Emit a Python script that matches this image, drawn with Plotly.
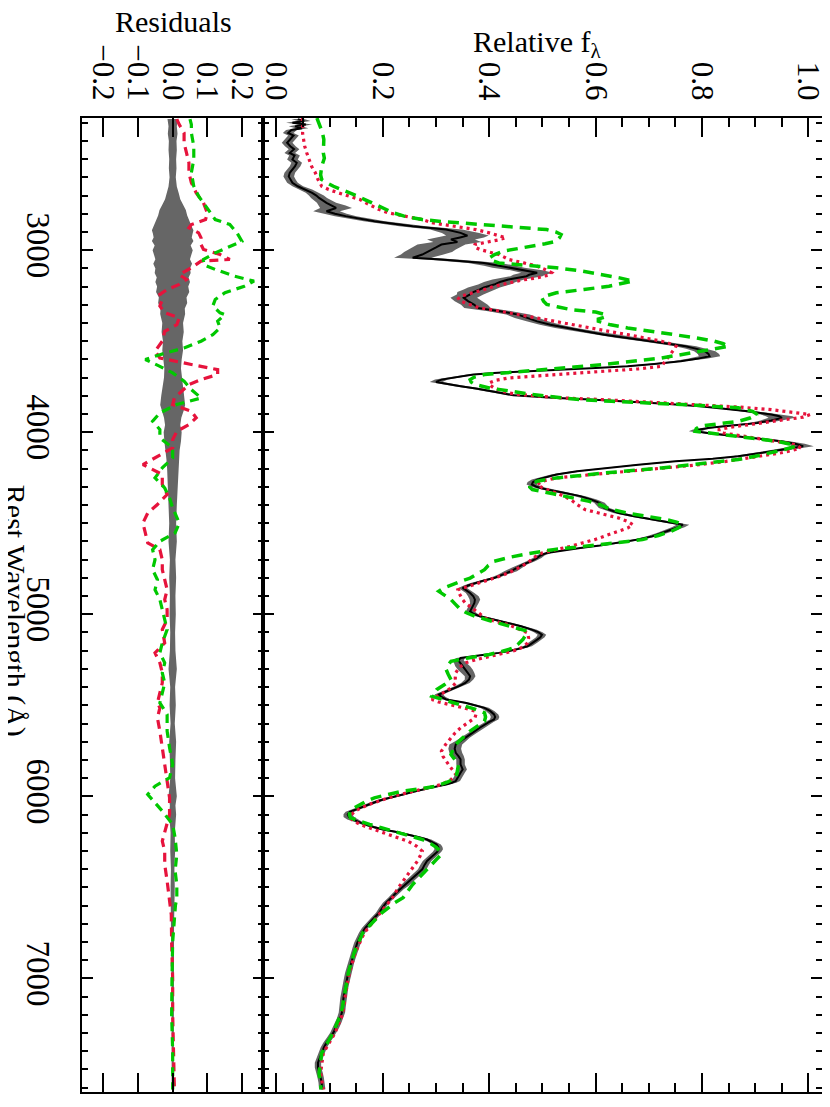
import plotly.graph_objects as go

# ---------------- data ----------------
wave_obs = [2280,2290,2300,2310,2320,2330,2340,2356,2370,2392,2410,2429,2445,2466,2480,2502,2520,2539,2557,2575,
            2595,2612,2630,2649,2667,2685,2700,2713,2740,2755,2768,2786,2800,2813,2841,2868,2887,2905,2920,2930,
            2941,2955,2969,2985,2996,3010,3024,3042,3051,3070,3085,3097,3110,3124,3135,3143,3161,3175,3189,3205,
            3216,3230,3243,3262,3280,3300,3317,3335,3354,3372,3391,3410,3427,3445,3464,3482,3500,3515,3528,3542,
            3555,3570,3583,3597,3610,3625,3638,3647,3656,3665,3674,3683,3693,3702,3711,3724,3735,3747,3760,3775,
            3786,3797,3805,3812,3820,3830,3843,3857,3870,3885,3903,3912,3921,3935,3949,3962,3976,3985,3995,4008,
            4022,4036,4049,4063,4077,4090,4104,4118,4132,4145,4159,4178,4196,4214,4232,4246,4260,4274,4287,4301,
            4315,4333,4351,4370,4388,4416,4444,4462,4480,4494,4508,4522,4535,4553,4572,4590,4608,4622,4636,4650,
            4663,4677,4691,4709,4727,4745,4764,4782,4801,4814,4828,4842,4855,4869,4883,4901,4919,4938,4956,4970,
            4984,4997,5011,5030,5048,5066,5084,5098,5112,5126,5139,5157,5176,5194,5212,5226,5240,5254,5267,5285,
            5304,5322,5340,5358,5377,5395,5414,5428,5441,5454,5468,5486,5500,5514,5532,5550,5564,5578,5591,5605,
            5623,5642,5660,5678,5697,5715,5738,5761,5779,5797,5811,5825,5838,5852,5870,5889,5903,5916,5925,5935,
            5948,5962,5976,5990,6003,6017,6031,6044,6058,6072,6085,6099,6113,6127,6140,6154,6168,6182,6195,6209,
            6223,6237,6250,6264,6278,6291,6305,6319,6337,6355,6378,6401,6420,6438,6456,6475,6493,6511,6530,6557,
            6585,6612,6639,6667,6694,6722,6749,6776,6804,6832,6859,6887,6914,6942,6969,6997,7024,7051,7079,7106,
            7134,7161,7188,7216,7243,7270,7298,7325,7353,7380,7408,7435,7463,7490,7518,7545,7573,7609]
flux_obs = [0.040,0.052,0.030,0.055,0.035,0.048,0.028,0.022,0.032,0.026,0.020,0.026,0.033,0.025,0.034,0.030,0.038,0.035,0.030,0.025,
            0.023,0.026,0.030,0.040,0.055,0.067,0.075,0.080,0.094,0.105,0.112,0.094,0.110,0.130,0.184,0.256,0.319,0.346,0.359,0.345,
            0.328,0.340,0.310,0.300,0.292,0.285,0.274,0.256,0.310,0.390,0.420,0.436,0.470,0.490,0.475,0.470,0.436,0.420,0.409,0.390,
            0.382,0.370,0.364,0.352,0.360,0.372,0.378,0.420,0.454,0.470,0.490,0.515,0.544,0.580,0.616,0.660,0.706,0.740,0.769,0.790,
            0.805,0.812,0.814,0.790,0.760,0.710,0.660,0.600,0.526,0.460,0.409,0.370,0.346,0.325,0.310,0.300,0.320,0.346,0.375,0.400,
            0.425,0.445,0.480,0.526,0.590,0.660,0.730,0.796,0.845,0.886,0.930,0.945,0.950,0.930,0.904,0.855,0.814,0.795,0.787,0.820,
            0.868,0.910,0.949,0.975,0.990,0.965,0.930,0.900,0.868,0.820,0.750,0.680,0.616,0.565,0.526,0.505,0.490,0.482,0.480,0.490,
            0.508,0.540,0.571,0.592,0.607,0.616,0.643,0.672,0.706,0.738,0.764,0.755,0.742,0.725,0.706,0.678,0.643,0.608,0.571,0.535,
            0.508,0.496,0.490,0.478,0.463,0.452,0.440,0.425,0.409,0.390,0.373,0.360,0.350,0.357,0.364,0.370,0.373,0.372,0.369,0.366,
            0.364,0.370,0.382,0.410,0.436,0.460,0.480,0.492,0.499,0.496,0.490,0.482,0.472,0.450,0.418,0.380,0.346,0.342,0.346,0.350,
            0.355,0.360,0.364,0.362,0.355,0.343,0.328,0.315,0.305,0.310,0.319,0.355,0.375,0.391,0.402,0.409,0.411,0.409,0.400,0.391,
            0.382,0.373,0.364,0.355,0.346,0.337,0.335,0.337,0.342,0.346,0.346,0.346,0.348,0.350,0.346,0.342,0.340,0.337,0.330,0.319,
            0.298,0.274,0.255,0.238,0.218,0.200,0.186,0.175,0.160,0.148,0.138,0.134,0.136,0.143,0.153,0.166,0.182,0.200,0.224,0.247,
            0.266,0.283,0.293,0.301,0.304,0.305,0.302,0.297,0.290,0.283,0.278,0.274,0.267,0.260,0.253,0.247,0.240,0.233,0.225,0.216,
            0.206,0.199,0.193,0.184,0.175,0.167,0.161,0.156,0.152,0.149,0.146,0.143,0.140,0.137,0.135,0.133,0.131,0.129,0.128,0.126,
            0.125,0.124,0.123,0.120,0.116,0.112,0.107,0.101,0.094,0.089,0.085,0.081,0.078,0.078,0.081,0.083,0.085,0.086]
flux_err = [0.012,0.012,0.012,0.012,0.012,0.012,0.010,0.010,0.010,0.010,0.010,0.010,0.010,0.010,0.010,0.010,0.010,0.010,0.010,0.010,
            0.010,0.010,0.010,0.010,0.012,0.012,0.014,0.015,0.018,0.025,0.030,0.025,0.022,0.020,0.020,0.025,0.030,0.035,0.040,0.045,
            0.045,0.045,0.045,0.045,0.045,0.045,0.040,0.035,0.030,0.030,0.030,0.030,0.030,0.030,0.030,0.030,0.030,0.030,0.030,0.030,
            0.030,0.030,0.025,0.025,0.025,0.025,0.025,0.022,0.022,0.022,0.020,0.020,0.020,0.020,0.020,0.020,0.020,0.020,0.020,0.020,
            0.020,0.020,0.020,0.018,0.015,0.012,0.012,0.012,0.012,0.012,0.012,0.012,0.012,0.012,0.012,0.012,0.012,0.012,0.012,0.012,
            0.012,0.012,0.012,0.012,0.012,0.012,0.012,0.012,0.012,0.015,0.020,0.025,0.025,0.020,0.015,0.012,0.012,0.012,0.012,0.012,
            0.012,0.012,0.015,0.018,0.020,0.018,0.015,0.012,0.012,0.010,0.010,0.010,0.010,0.010,0.010,0.010,0.010,0.010,0.010,0.010,
            0.010,0.010,0.010,0.010,0.010,0.010,0.010,0.010,0.010,0.010,0.012,0.012,0.010,0.010,0.010,0.010,0.010,0.008,0.008,0.008,
            0.008,0.008,0.008,0.008,0.008,0.010,0.012,0.008,0.008,0.008,0.008,0.008,0.008,0.008,0.008,0.010,0.010,0.008,0.008,0.008,
            0.008,0.008,0.008,0.008,0.008,0.008,0.008,0.008,0.008,0.008,0.008,0.008,0.008,0.008,0.008,0.008,0.008,0.010,0.012,0.014,
            0.014,0.012,0.010,0.008,0.008,0.008,0.008,0.008,0.008,0.008,0.008,0.008,0.008,0.008,0.008,0.008,0.008,0.008,0.008,0.008,
            0.008,0.008,0.008,0.008,0.010,0.012,0.012,0.012,0.010,0.008,0.008,0.008,0.008,0.008,0.008,0.008,0.008,0.008,0.008,0.008,
            0.008,0.008,0.008,0.008,0.008,0.008,0.008,0.008,0.008,0.008,0.008,0.008,0.010,0.010,0.008,0.008,0.008,0.008,0.008,0.008,
            0.008,0.008,0.008,0.008,0.008,0.008,0.008,0.008,0.008,0.008,0.008,0.008,0.008,0.008,0.008,0.008,0.008,0.006,0.006,0.006,
            0.006,0.006,0.006,0.006,0.006,0.006,0.006,0.006,0.006,0.006,0.006,0.006,0.006,0.006,0.006,0.006,0.006,0.006,0.006,0.006,
            0.006,0.006,0.006,0.006,0.006,0.006,0.006,0.006,0.006,0.006,0.006,0.006,0.006,0.006,0.006,0.006,0.006,0.006]

wave_red = [2274,2300,2330,2356,2392,2429,2466,2502,2540,2575,2612,2649,2667,2685,2703,2722,2740,2758,2776,2795,
            2813,2832,2851,2868,2887,2905,2920,2932,2943,2955,2969,2982,2996,3010,3024,3038,3051,3070,3088,3106,
            3124,3138,3152,3165,3179,3198,3216,3235,3253,3266,3280,3295,3307,3317,3335,3354,3372,3391,3409,3427,
            3446,3464,3482,3500,3514,3528,3546,3564,3583,3601,3620,3638,3652,3665,3674,3683,3693,3702,3715,3729,
            3743,3757,3770,3784,3793,3802,3812,3821,3835,3848,3862,3876,3890,3903,3917,3930,3944,3958,3972,3985,
            3995,4004,4018,4031,4050,4068,4086,4100,4113,4127,4141,4160,4178,4196,4214,4232,4251,4269,4287,4305,
            4324,4347,4370,4397,4425,4448,4471,4490,4508,4526,4544,4567,4590,4608,4627,4645,4663,4690,4718,4745,
            4773,4796,4819,4842,4865,4883,4901,4920,4938,4956,4974,4997,5020,5038,5057,5080,5102,5130,5157,5176,
            5194,5212,5231,5249,5267,5294,5322,5350,5377,5400,5423,5445,5468,5482,5496,5514,5532,5550,5569,5596,
            5624,5651,5678,5715,5752,5780,5807,5843,5880,5908,5935,5953,5971,5990,6008,6026,6044,6062,6081,6100,
            6118,6136,6154,6172,6191,6218,6246,6273,6301,6328,6356,6392,6429,6465,6502,6557,6640,6750,6860,6970,
            7080,7190,7300,7410,7520,7610]
flux_red = [0.049,0.048,0.050,0.049,0.051,0.053,0.057,0.062,0.066,0.073,0.078,0.085,0.098,0.116,0.138,0.157,0.168,0.179,0.192,0.210,
            0.238,0.274,0.295,0.337,0.375,0.400,0.420,0.431,0.418,0.400,0.373,0.372,0.382,0.400,0.418,0.428,0.436,0.465,0.490,0.505,
            0.517,0.510,0.490,0.460,0.436,0.410,0.391,0.366,0.346,0.342,0.346,0.360,0.373,0.382,0.420,0.454,0.490,0.526,0.560,0.589,
            0.625,0.660,0.695,0.724,0.740,0.751,0.747,0.742,0.737,0.733,0.728,0.724,0.680,0.616,0.570,0.526,0.480,0.436,0.412,0.400,
            0.402,0.409,0.420,0.436,0.455,0.490,0.540,0.616,0.710,0.796,0.870,0.930,0.975,1.003,0.990,0.958,0.920,0.886,0.855,0.832,
            0.832,0.840,0.870,0.904,0.945,0.976,0.985,0.970,0.949,0.920,0.886,0.845,0.796,0.730,0.660,0.590,0.526,0.500,0.490,0.500,
            0.517,0.537,0.553,0.565,0.580,0.612,0.643,0.660,0.670,0.660,0.643,0.620,0.598,0.575,0.553,0.525,0.499,0.483,0.472,0.455,
            0.436,0.415,0.391,0.365,0.341,0.343,0.346,0.350,0.355,0.363,0.373,0.382,0.391,0.410,0.436,0.456,0.472,0.474,0.472,0.465,
            0.454,0.430,0.400,0.375,0.355,0.343,0.337,0.336,0.337,0.330,0.319,0.305,0.292,0.305,0.328,0.352,0.373,0.375,0.373,0.360,
            0.346,0.336,0.328,0.318,0.310,0.313,0.319,0.328,0.337,0.328,0.310,0.285,0.256,0.232,0.210,0.190,0.175,0.160,0.148,0.141,
            0.139,0.145,0.157,0.173,0.193,0.222,0.247,0.263,0.274,0.270,0.265,0.256,0.247,0.238,0.229,0.218,0.196,0.165,0.148,0.137,
            0.130,0.125,0.110,0.088,0.083,0.088]

wave_green = [2274,2300,2319,2350,2392,2430,2466,2495,2539,2586,2612,2630,2649,2667,2685,2704,2722,2740,2758,2776,
              2795,2813,2832,2841,2850,2860,2868,2877,2887,2900,2914,2932,2951,2965,2978,2992,3005,3024,3042,3056,
              3070,3083,3097,3115,3134,3152,3170,3184,3198,3216,3234,3248,3262,3280,3298,3312,3326,3340,3352,3365,
              3378,3390,3410,3427,3446,3464,3482,3500,3514,3528,3542,3555,3574,3592,3610,3628,3642,3656,3670,3683,
              3697,3711,3725,3738,3757,3775,3788,3802,3812,3821,3830,3839,3852,3866,3885,3903,3922,3940,3954,3967,
              3981,3995,4008,4022,4036,4049,4063,4077,4095,4113,4132,4150,4173,4196,4223,4251,4269,4287,4301,4315,
              4338,4361,4380,4397,4420,4444,4462,4480,4494,4508,4526,4544,4567,4590,4608,4627,4645,4663,4686,4709,
              4732,4755,4778,4801,4819,4837,4856,4874,4896,4919,4947,4974,4993,5011,5034,5057,5075,5093,5116,5139,
              5162,5185,5203,5221,5240,5258,5281,5304,5331,5359,5386,5414,5432,5450,5473,5496,5518,5541,5564,5587,
              5615,5642,5679,5715,5742,5770,5797,5825,5862,5898,5921,5944,5958,5971,5990,6008,6026,6044,6062,6081,
              6100,6118,6136,6154,6172,6191,6214,6237,6260,6282,6300,6319,6346,6374,6401,6429,6456,6484,6520,6557,
              6585,6640,6750,6860,6970,7080,7190,7300,7410,7520,7610]
flux_green = [0.076,0.080,0.082,0.086,0.089,0.088,0.088,0.090,0.085,0.083,0.085,0.095,0.107,0.122,0.139,0.153,0.166,0.180,0.193,0.206,
              0.220,0.240,0.274,0.305,0.346,0.400,0.436,0.475,0.508,0.525,0.535,0.532,0.526,0.505,0.481,0.452,0.427,0.410,0.400,0.405,
              0.418,0.470,0.526,0.575,0.616,0.645,0.670,0.650,0.625,0.578,0.526,0.510,0.499,0.502,0.508,0.530,0.553,0.600,0.616,0.620,
              0.605,0.605,0.628,0.660,0.705,0.751,0.790,0.823,0.840,0.850,0.825,0.796,0.760,0.724,0.675,0.616,0.560,0.499,0.440,0.391,
              0.372,0.364,0.366,0.373,0.400,0.436,0.470,0.508,0.540,0.571,0.630,0.706,0.790,0.868,0.895,0.904,0.890,0.868,0.830,0.796,
              0.789,0.787,0.825,0.868,0.905,0.940,0.962,0.976,0.955,0.930,0.900,0.868,0.800,0.724,0.620,0.526,0.490,0.476,0.476,0.481,
              0.520,0.562,0.588,0.607,0.625,0.660,0.700,0.733,0.752,0.764,0.755,0.742,0.718,0.688,0.635,0.571,0.520,0.481,0.440,0.409,
              0.398,0.391,0.378,0.364,0.346,0.328,0.314,0.305,0.315,0.328,0.337,0.346,0.358,0.373,0.400,0.427,0.452,0.472,0.468,0.463,
              0.455,0.445,0.425,0.400,0.360,0.328,0.322,0.319,0.323,0.328,0.316,0.301,0.296,0.292,0.318,0.346,0.370,0.391,0.393,0.391,
              0.377,0.364,0.350,0.337,0.332,0.328,0.335,0.342,0.340,0.337,0.322,0.301,0.270,0.238,0.210,0.184,0.169,0.157,0.147,0.139,
              0.137,0.139,0.155,0.175,0.197,0.220,0.248,0.274,0.290,0.301,0.307,0.310,0.301,0.292,0.283,0.274,0.265,0.256,0.247,0.238,
              0.222,0.198,0.162,0.146,0.135,0.128,0.122,0.106,0.085,0.080,0.084]

wave_res_red = [2280,2310,2356,2411,2466,2521,2575,2630,2685,2740,2795,2832,2859,2877,2905,2932,2969,2996,3024,3051,
                3060,3097,3134,3161,3188,3216,3243,3271,3307,3344,3372,3409,3446,3500,3555,3592,3628,3656,3683,3711,
                3738,3775,3812,3848,3885,3921,3958,3995,4040,4086,4141,4178,4232,4287,4342,4397,4444,4499,4553,4608,
                4645,4700,4755,4810,4865,4919,4974,5029,5084,5157,5212,5267,5322,5377,5432,5487,5514,5569,5642,5733,
                5825,5916,6008,6099,6191,6246,6301,6374,6465,6557,6650,6800,7000,7200,7400,7610]
res_red = [0.012,0.019,0.033,0.033,0.040,0.047,0.047,0.054,0.068,0.089,0.100,0.095,0.054,0.047,0.075,0.082,0.082,0.089,0.137,0.165,
           0.082,0.054,0.019,0.040,0.019,-0.016,-0.037,-0.030,-0.037,-0.023,0.019,0.012,-0.023,-0.030,-0.051,-0.037,0.054,0.130,0.130,0.082,
           0.047,0.026,0.005,0.000,0.054,0.068,0.047,0.012,0.000,0.000,-0.051,-0.086,-0.030,-0.030,-0.016,-0.044,-0.072,-0.086,-0.079,-0.072,
           -0.037,-0.030,-0.030,-0.023,-0.016,-0.023,-0.016,-0.016,-0.030,-0.023,-0.051,-0.037,-0.030,-0.030,-0.037,-0.044,-0.037,-0.044,-0.037,-0.030,
           -0.023,-0.016,-0.009,-0.009,-0.023,-0.030,-0.023,-0.023,-0.016,-0.009,-0.004,-0.003,0.000,0.000,0.002,0.005]

wave_res_green = [2280,2310,2356,2429,2502,2575,2649,2704,2740,2795,2832,2859,2905,2951,2978,3015,3051,3079,3106,3143,
                  3170,3198,3234,3271,3307,3344,3354,3390,3427,3464,3500,3537,3574,3601,3638,3674,3720,3766,3812,3848,
                  3894,3940,3985,4031,4086,4141,4196,4251,4306,4361,4415,4444,4499,4553,4599,4645,4700,4755,4810,4865,
                  4919,4974,5029,5084,5157,5212,5267,5322,5377,5432,5487,5550,5642,5733,5825,5898,5944,5990,6035,6081,
                  6154,6227,6319,6410,6484,6557,6600,6800,7000,7200,7400,7610]
res_green = [0.050,0.054,0.054,0.061,0.061,0.054,0.061,0.075,0.089,0.109,0.123,0.165,0.186,0.200,0.165,0.123,0.089,0.089,0.123,0.179,
             0.235,0.207,0.151,0.123,0.116,0.137,0.151,0.130,0.137,0.116,0.082,0.033,-0.037,-0.079,-0.037,0.000,0.033,0.054,0.082,0.012,
             -0.037,-0.058,-0.037,-0.037,0.000,0.000,-0.030,-0.051,-0.023,-0.009,0.000,0.007,0.019,0.007,-0.037,-0.058,-0.051,-0.058,-0.044,-0.051,
             -0.037,-0.030,-0.023,-0.016,-0.030,-0.037,-0.023,-0.030,-0.023,-0.030,-0.037,-0.016,-0.016,-0.009,0.000,-0.009,-0.051,-0.072,-0.051,-0.030,
             0.000,0.007,0.012,0.007,0.012,0.012,0.008,0.000,-0.002,-0.003,0.000,0.000]

wave_res_band = [2280,2320,2360,2400,2450,2500,2550,2600,2650,2690,2720,2750,2780,2810,2840,2870,2890,2910,2930,2950,
                 2975,3000,3025,3050,3075,3100,3125,3150,3175,3200,3230,3260,3290,3320,3350,3400,3450,3500,3550,3600,
                 3650,3700,3750,3800,3850,3880,3920,3960,4000,4050,4100,4150,4200,4300,4400,4500,4600,4700,4800,4900,
                 5000,5100,5200,5300,5400,5500,5600,5700,5800,5900,6000,6050,6100,6200,6300,6400,6500,6700,6900,7100,
                 7300,7610]
res_band = [0.015,0.012,0.014,0.011,0.012,0.010,0.011,0.009,0.012,0.018,0.022,0.030,0.038,0.042,0.048,0.055,0.060,0.057,0.055,0.060,
            0.052,0.058,0.055,0.050,0.056,0.050,0.052,0.046,0.050,0.045,0.048,0.040,0.042,0.035,0.036,0.030,0.032,0.028,0.030,0.026,
            0.024,0.025,0.030,0.033,0.036,0.032,0.025,0.022,0.026,0.024,0.020,0.018,0.016,0.014,0.012,0.010,0.012,0.008,0.010,0.008,
            0.009,0.007,0.008,0.012,0.007,0.009,0.006,0.010,0.008,0.007,0.012,0.008,0.010,0.006,0.007,0.005,0.006,0.004,0.004,0.003,
            0.003,0.003]

res_ticks = [-0.2, -0.1, 0.0, 0.1, 0.2]
res_ticktext = ["\u22120.2", "\u22120.1", "0.0", "0.1", "0.2"]
flux_ticks = [0.0, 0.2, 0.4, 0.6, 0.8, 1.0]
flux_ticktext = ["0.0", "0.2", "0.4", "0.6", "0.8", "1.0"]
wave_ticks = [3000, 4000, 5000, 6000, 7000]
wave_ticktext = ["3000", "4000", "5000", "6000", "7000"]

# ---------------- style ----------------
W, H = 830, 1107
ML, MR, MT, MB = 65.7, 16.3, 110.0, 22.7
PW, PH = W - ML - MR, H - MT - MB
SPLIT = (249.0 - ML) / PW
FONT = "Liberation Serif, Times New Roman, serif"
GRAY = "#666666"
RED = "#E6133C"
GREEN = "#00C800"

fig = go.Figure()

# residual band
lo = [-e for e in res_band]
fig.add_trace(go.Scatter(x=lo + res_band[::-1], y=wave_res_band + wave_res_band[::-1],
                         fill="toself", fillcolor=GRAY, line=dict(width=0), mode="lines",
                         xaxis="x", yaxis="y", hoverinfo="skip", showlegend=False))
fig.add_trace(go.Scatter(x=res_red, y=wave_res_red, mode="lines",
                         line=dict(color=RED, width=3.2, dash="9px,6px"),
                         xaxis="x", yaxis="y", showlegend=False))
fig.add_trace(go.Scatter(x=res_green, y=wave_res_green, mode="lines",
                         line=dict(color=GREEN, width=3.2, dash="9px,6px"),
                         xaxis="x", yaxis="y", showlegend=False))

# flux band
blo = [f - e for f, e in zip(flux_obs, flux_err)]
bhi = [f + e for f, e in zip(flux_obs, flux_err)]
fig.add_trace(go.Scatter(x=blo + bhi[::-1], y=wave_obs + wave_obs[::-1],
                         fill="toself", fillcolor=GRAY, line=dict(width=0), mode="lines",
                         xaxis="x2", yaxis="y2", hoverinfo="skip", showlegend=False))
fig.add_trace(go.Scatter(x=flux_obs, y=wave_obs, mode="lines",
                         line=dict(color="black", width=2),
                         xaxis="x2", yaxis="y2", showlegend=False))
fig.add_trace(go.Scatter(x=flux_red, y=wave_red, mode="lines",
                         line=dict(color=RED, width=3.2, dash="3px,4px"),
                         xaxis="x2", yaxis="y2", showlegend=False))
fig.add_trace(go.Scatter(x=flux_green, y=wave_green, mode="lines",
                         line=dict(color=GREEN, width=3.5, dash="11px,7px"),
                         xaxis="x2", yaxis="y2", showlegend=False))

xtickfont = dict(family=FONT, size=31, color="black")
ytickfont = dict(family=FONT, size=33, color="black")
common = dict(showline=True, linecolor="black", linewidth=1.5, mirror="allticks",
              ticks="inside", tickcolor="black", tickwidth=1.5, showgrid=False, zeroline=False)

fig.update_layout(
    width=W, height=H,
    margin=dict(l=ML, r=MR, t=MT, b=MB, pad=0),
    paper_bgcolor="white", plot_bgcolor="white",
    showlegend=False,
    font=dict(family=FONT, color="black"),
    xaxis=dict(domain=[0, SPLIT], range=[-0.262, 0.262], side="top", anchor="y",
               tickmode="array", tickvals=res_ticks, ticktext=res_ticktext, tickfont=xtickfont,
               tickangle=90, ticklen=19, ticklabelstandoff=5, **common),
    xaxis2=dict(domain=[SPLIT, 1], range=[-0.0247, 1.0254], side="top", anchor="y2",
                tickmode="array", tickvals=flux_ticks, ticktext=flux_ticktext, tickfont=xtickfont,
                tickangle=90, ticklen=19, ticklabelstandoff=5,
                minor=dict(tickmode="linear", tick0=0, dtick=0.05, ticklen=9.5, ticks="inside",
                           tickcolor="black", tickwidth=1.5, showgrid=False),
                **common),
    yaxis=dict(domain=[0, 1], range=[7624, 2274], anchor="x", side="left",
               tickmode="array", tickvals=wave_ticks, ticktext=wave_ticktext, tickfont=ytickfont,
               tickangle=90, ticklen=11, ticklabelstandoff=14,
               minor=dict(tickmode="linear", tick0=0, dtick=100, ticklen=6, ticks="inside",
                          tickcolor="black", tickwidth=1.5, showgrid=False),
               **common),
    yaxis2=dict(domain=[0, 1], matches="y", anchor="x2", showticklabels=False,
                tickmode="array", tickvals=wave_ticks, ticklen=11,
                minor=dict(tickmode="linear", tick0=0, dtick=100, ticklen=6, ticks="inside",
                           tickcolor="black", tickwidth=1.5, showgrid=False),
                **common),
)

def px(xp):
    return (xp - ML) / PW

def py(yp):
    return 1 - (yp - MT) / PH

annfont = dict(family=FONT, size=30, color="black")
fig.add_annotation(text="Residuals", x=px(158), y=py(13), xref="paper", yref="paper",
                   showarrow=False, font=annfont, xanchor="center", yanchor="middle")
fig.add_annotation(text="Relative f<sub>\u03bb</sub>", x=px(526), y=py(36), xref="paper", yref="paper",
                   showarrow=False, font=annfont, xanchor="center", yanchor="middle")
fig.add_annotation(text="Rest Wavelength (\u00c5)", x=px(-2), y=py(603), xref="paper", yref="paper",
                   showarrow=False, font=annfont, textangle=90, xanchor="center", yanchor="middle")

fig.write_html("out.html")
